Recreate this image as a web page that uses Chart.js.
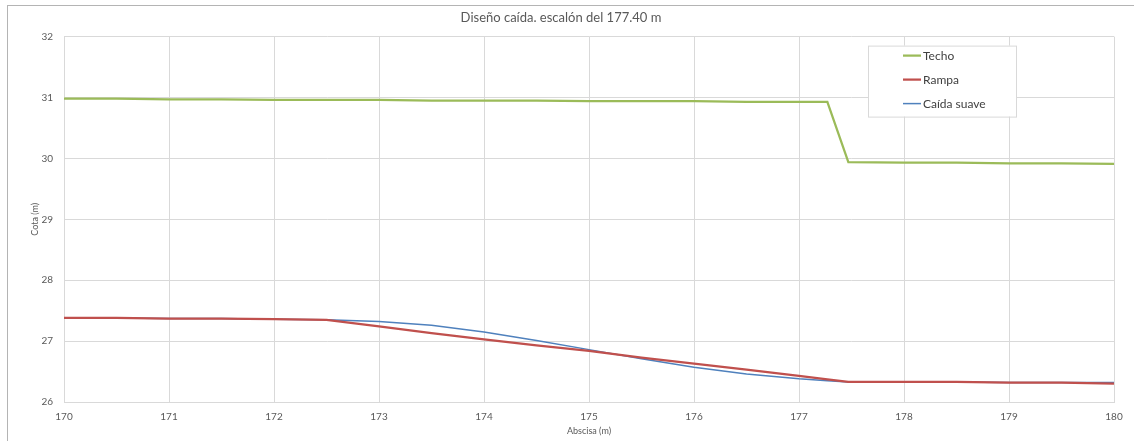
<!DOCTYPE html>
<html>
<head>
<meta charset="utf-8">
<script src="https://cdn.jsdelivr.net/npm/chart.js@4/dist/chart.umd.min.js"></script>
<style>
  html, body { margin: 0; padding: 0; background: #fff; }
  #wrap { position: absolute; left: 0; top: 0; width: 1134px; height: 441px; }
  #frame { position: absolute; left: 7px; top: 5px; width: 1200px; height: 500px;
           border-left: 1px solid #b4b4b4; border-top: 1px solid #b4b4b4; pointer-events: none; }
</style>
</head>
<body>
<div id="wrap"><canvas id="c" width="1134" height="441"></canvas></div>
<div id="frame"></div>
<script>
// Abscisa (m) shared by the three profiles
const abscisa = [170, 170.5, 171, 171.5, 172, 172.5, 173, 173.5, 174, 174.5, 175, 175.5,
                 176, 176.5, 177, 177.27, 177.47, 178, 178.5, 179, 179.5, 180];
// Cota (m) of each profile
const techo = [30.98, 30.98, 30.97, 30.97, 30.96, 30.96, 30.96, 30.95, 30.95, 30.95, 30.94, 30.94,
               30.94, 30.93, 30.93, 30.93, 29.94, 29.93, 29.93, 29.92, 29.92, 29.91];
const rampa = [27.38, 27.38, 27.37, 27.37, 27.36, 27.35, 27.24, 27.13, 27.03, 26.93, 26.84, 26.73,
               26.63, 26.53, 26.43, 26.37, 26.33, 26.33, 26.33, 26.32, 26.32, 26.30];
const caidaSuave = [27.38, 27.38, 27.37, 27.37, 27.36, 27.35, 27.32, 27.26, 27.15, 27.01, 26.86, 26.71,
                    26.57, 26.46, 26.38, 26.35, 26.33, 26.33, 26.33, 26.32, 26.32, 26.32];
const seriesNames = ['Techo', 'Rampa', 'Caída suave'];
const xTicks = [170, 171, 172, 173, 174, 175, 176, 177, 178, 179, 180];
const yTicks = [26, 27, 28, 29, 30, 31, 32];

const FONT = 'Lato, "Open Sans", "DejaVu Sans", sans-serif';
const pts = ys => abscisa.map((x, i) => ({ x: x, y: ys[i] }));

// Legend box drawn inside the plot area, top right
const boxLegend = {
  id: 'boxLegend',
  afterDraw(chart) {
    const ctx = chart.ctx, a = chart.chartArea;
    const left = a.right - 246, top = a.top + 9, w = 148, h = 71;
    ctx.save();
    ctx.fillStyle = '#ffffff';
    ctx.fillRect(left, top, w, h);
    ctx.strokeStyle = '#d9d9d9';
    ctx.lineWidth = 1;
    ctx.strokeRect(left + 0.5, top + 0.5, w, h);
    ctx.font = '12px ' + FONT;
    ctx.textBaseline = 'middle';
    chart.data.datasets.forEach((ds, i) => {
      const y = top + 10 + i * 24;
      ctx.strokeStyle = ds.borderColor;
      ctx.lineWidth = ds.borderWidth;
      ctx.beginPath();
      ctx.moveTo(left + 35, y);
      ctx.lineTo(left + 53, y);
      ctx.stroke();
      ctx.fillStyle = '#404040';
      ctx.fillText(ds.label, left + 55, y + 1);
    });
    ctx.restore();
  }
};

new Chart(document.getElementById('c'), {
  type: 'line',
  data: {
    datasets: [
      { label: seriesNames[0], data: pts(techo), borderColor: '#9BBB59', borderWidth: 2.25 },
      { label: seriesNames[1], data: pts(rampa), borderColor: '#C0504D', borderWidth: 2.25 },
      { label: seriesNames[2], data: pts(caidaSuave), borderColor: '#4F81BD', borderWidth: 1.5 }
    ]
  },
  options: {
    responsive: false,
    animation: false,
    events: [],
    elements: { point: { radius: 0 }, line: { tension: 0 } },
    layout: { padding: { left: 8, right: 20, top: 0, bottom: 0 } },
    plugins: {
      legend: { display: false },
      tooltip: { enabled: false },
      title: {
        display: true,
        text: 'Diseño caída. escalón del 177.40 m',
        color: '#595959',
        font: { family: FONT, size: 13, weight: 'normal' },
        padding: { top: 10, bottom: 11 }
      }
    },
    scales: {
      x: {
        type: 'linear',
        min: 170, max: 180,
        afterBuildTicks: s => { s.ticks = xTicks.map(v => ({ value: v })); },
        afterFit: s => { s.height = 39; },
        grid: { color: '#d9d9d9', drawTicks: false },
        border: { color: '#d9d9d9' },
        ticks: { color: '#595959', padding: 9, font: { family: FONT, size: 10 }, maxRotation: 0 },
        title: { display: true, text: 'Abscisa (m)', color: '#595959',
                 font: { family: FONT, size: 9 }, padding: { top: 5, bottom: 5 } }
      },
      y: {
        min: 26, max: 32,
        afterBuildTicks: s => { s.ticks = yTicks.map(v => ({ value: v })); },
        afterFit: s => { s.width = 56; },
        grid: { color: '#d9d9d9', drawTicks: false },
        border: { color: '#d9d9d9' },
        ticks: { color: '#595959', padding: 11, font: { family: FONT, size: 10 } },
        title: { display: true, text: 'Cota (m)', color: '#595959',
                 font: { family: FONT, size: 9 }, padding: { top: 22, bottom: 0 } }
      }
    }
  },
  plugins: [boxLegend]
});
</script>
</body>
</html>
